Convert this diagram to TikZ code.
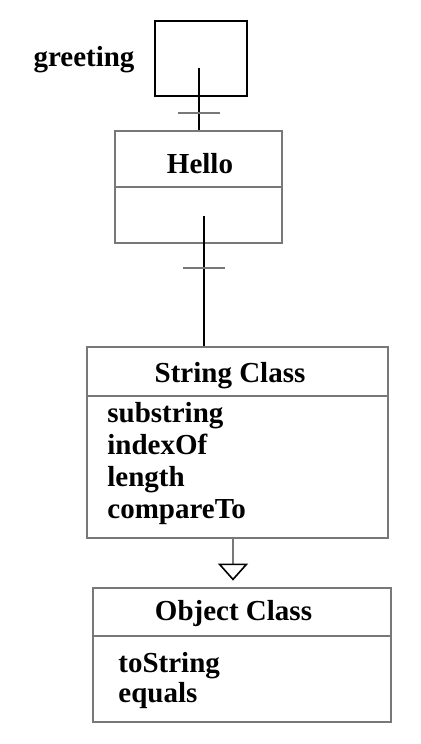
\documentclass[tikz,border=0pt]{standalone}
\usepackage{fontspec}
\setmainfont{Liberation Serif}
\usetikzlibrary{arrows.meta}
\definecolor{boxgray}{RGB}{120,120,120}
\tikzset{
  umlbox/.style={draw=boxgray,line width=1.4pt,inner sep=0,rectangle},
  umltext/.style={font=\bfseries\fontsize{14.5}{16}\selectfont,inner sep=0},
  link/.style={draw=black,line width=1pt},
  tickmark/.style={draw=boxgray,line width=1.3pt},
  genarrow/.style={draw=boxgray,line width=1.4pt,
    -{Triangle[open,length=8.5pt,width=15pt,line width=0.8pt,fill=white,color=black]}}
}

\begin{document}
\begin{tikzpicture}[x=0.5pt,y=-0.5pt]
\useasboundingbox (0,0) rectangle (420,744);

% reference variable
\node[umlbox,draw=black,minimum width=46pt,minimum height=37.5pt] (gvar) at (201,58.5) {};
\node[umltext,anchor=base] (glabel) at (84,66) {greeting};

% Hello object
\node[umlbox,minimum width=83.5pt,minimum height=28pt] (hellotop) at (198.5,159) {};
\node[umlbox,minimum width=83.5pt,minimum height=28pt] (hellobot) at (198.5,215) {};
\node[umltext,anchor=base] (hellotxt) at (200,173) {Hello};

% String class
\node[umlbox,minimum width=150.5pt,minimum height=24.5pt] (strtop) at (237.5,371.5) {};
\node[umlbox,minimum width=150.5pt,minimum height=71pt] (strbot) at (237.5,467) {};
\node[umltext,anchor=base] (strtxt) at (230,382) {String Class};
\foreach \m [count=\i] in {substring,indexOf,length,compareTo}
  \node[umltext,anchor=base west] (smeth\i) at (107,{422+32.3*(\i-1)}) {\m};

% Object class
\node[umlbox,minimum width=149pt,minimum height=24pt] (objtop) at (242,612) {};
\node[umlbox,minimum width=149pt,minimum height=43pt] (objbot) at (242,679) {};
\node[umltext,anchor=base] (objtxt) at (233.5,620) {Object Class};
\foreach \m [count=\i] in {toString,equals}
  \node[umltext,anchor=base west] (ometh\i) at (118,{672+30*(\i-1)}) {\m};

% links
\coordinate (gref) at (199,68);
\draw[link] (gref) -- (gref |- hellotop.north);
\coordinate (tick1) at (199,113);
\draw[tickmark] ([xshift=-10.5pt]tick1) -- ([xshift=10.5pt]tick1);

\coordinate (href) at (204,216);
\draw[link] (href) -- (href |- strtop.north);
\coordinate (tick2) at (204,268);
\draw[tickmark] ([xshift=-10.5pt]tick2) -- ([xshift=10.5pt]tick2);

% generalization
\coordinate (gen) at (233,538);
\draw[genarrow,shorten >=3pt] (gen) -- (gen |- objtop.north);

\end{tikzpicture}
\end{document}
